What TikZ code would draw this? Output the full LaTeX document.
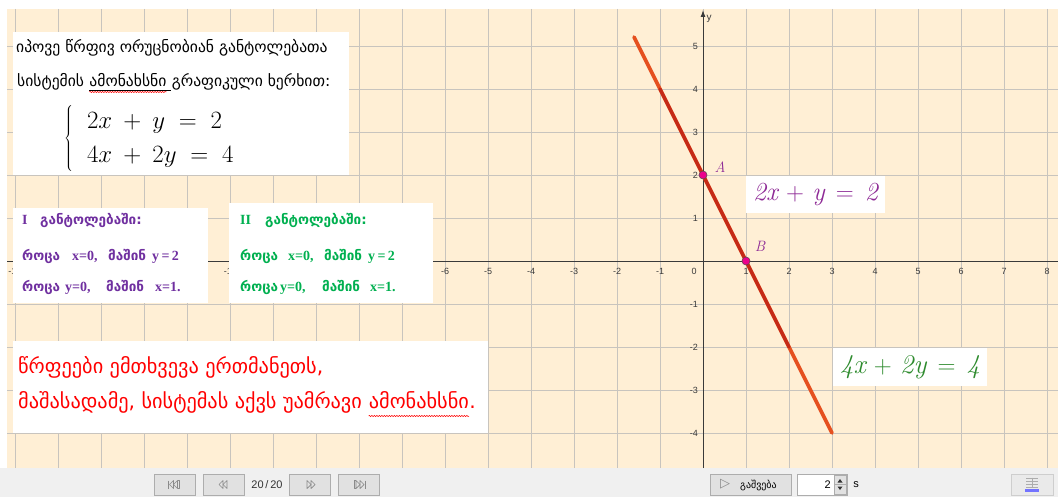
\documentclass[tikz,border=0pt]{standalone}
\usepackage{fontspec}
\usetikzlibrary{decorations.pathmorphing,arrows.meta,calc}
\newfontfamily\geo{DejaVu Sans}
\newfontfamily\lser{Liberation Serif}
\newfontfamily\lsans{Liberation Sans}
\definecolor{cream}{HTML}{FFEFD5}
\definecolor{gridc}{HTML}{C8C4BE}
\definecolor{axisc}{HTML}{3A3A3A}
\definecolor{lineA}{HTML}{E5501F}
\definecolor{lineB}{HTML}{C42A18}
\definecolor{purp}{HTML}{7030A0}
\definecolor{grn}{HTML}{00B050}
\definecolor{gpurp}{HTML}{8E2A96}
\definecolor{ggrn}{HTML}{2E8B2E}
\definecolor{tbar}{HTML}{F0F0F0}
\definecolor{btnf}{HTML}{E1E1E1}
\definecolor{btnd}{HTML}{ADADAD}
\definecolor{icon}{HTML}{8A8A8A}
\newcommand{\wideeq}{\medmuskip=6mu\thickmuskip=8mu}
\newcommand{\widereq}{\medmuskip=8mu\thickmuskip=10mu}
\tikzset{
  gridline/.style={draw=gridc, line width=0.9pt},
  axisline/.style={draw=axisc, line width=0.9pt},
  ticklab/.style={font=\lsans\fontsize{9}{10}\selectfont, text=axisc, inner sep=0pt},
  whitebox/.style={fill=white, draw=none, inner sep=0pt},
  txt/.style={inner sep=0pt, anchor=base west},
  geotxt/.style={txt, font=\geo\fontsize{15.6}{18}\selectfont},
  redtxt/.style={txt, text=red, font=\geo\fontsize{20.3}{23}\selectfont},
  boxtxt/.style={txt, font=\geo\bfseries\fontsize{13.5}{15}\selectfont},
  lattxt/.style={txt, font=\lser\bfseries\fontsize{14}{16}\selectfont},
  thickline/.style={line width=3.6pt, line cap=round},
  pt/.style={circle, fill=magenta, draw=black!70!magenta, line width=0.6pt, inner sep=0pt, minimum size=8pt},
  ptlab/.style={text=gpurp, font=\itshape\fontsize{15}{17}\selectfont, inner sep=0pt},
  spell/.style={draw=red, line width=0.5pt, decorate, decoration={snake, amplitude=0.6pt, segment length=2.5pt}},
  button/.style={draw=btnd, fill=btnf, line width=0.6pt, inner sep=0pt, minimum width=41pt, minimum height=21pt},
  ico/.style={draw=icon, line width=0.7pt, line join=round},
}
\begin{document}
\begin{tikzpicture}[x=1pt,y=-1pt]
\useasboundingbox (0,0) rectangle (1058,497);
\fill[white] (0,0) rectangle (1058,468);
\fill[cream] (7,9) rectangle (1058,468);
\fill[tbar] (0,468) rectangle (1058,497);
% grid
\begin{scope}
\clip (7,9) rectangle (1058,468);
\foreach \i in {-16,...,8} \draw[gridline] ({703+43*\i},9) -- ({703+43*\i},468);
\foreach \j in {-4,...,5} \draw[gridline] (7,{261-43*\j}) -- (1058,{261-43*\j});
\end{scope}
% axes
\coordinate (xl) at (7,261);
\coordinate (xr) at (1058,261);
\coordinate (yb) at (703,468);
\coordinate (yt) at (703,10);
\draw[axisline] (xl) -- (xr);
\draw[axisline,-{Latex[length=7pt,width=5pt]}] (yb) -- (yt);
\node[ticklab,font=\lsans\fontsize{10}{11}\selectfont] (ylab) at (709,19) {y};
\foreach \i in {-16,...,-1} \node[ticklab] (xt\i) at ({703+43*\i},271) {\i};
\foreach \i in {1,...,8} \node[ticklab] (xt\i) at ({703+43*\i},271) {\i};
\node[ticklab] (x0) at (694,271) {0};
\foreach \j in {-4,...,-1} \node[ticklab,anchor=east] (yt\j) at (698,{261-43*\j}) {\j};
\foreach \j in {1,...,5} \node[ticklab,anchor=east] (yt\j) at (698,{261-43*\j}) {\j};
% lines
\coordinate (P1) at (634,37);
\coordinate (P2) at (832,433);
\coordinate (Q1) at (660,89);
\coordinate (Q2) at (789,347);
\draw[thickline, draw=lineA] (P1) -- (P2);
\draw[thickline, draw=lineB, line width=3.2pt] (Q1) -- (Q2);
\node[pt] (A) at (703,175) {};
\node[pt] (B) at (746,261) {};
\node[ptlab] (Al) at (720,167) {A};
\node[ptlab] (Bl) at (760,246) {B};
% equation labels in graph
\node[whitebox, minimum width=139pt, minimum height=37pt] (eq1) at (815.5,194.5)
  {\textcolor{gpurp}{\fontsize{26}{30}\selectfont\wideeq$\mathit{2x+y=2}$}};
\node[whitebox, minimum width=154pt, minimum height=38pt] (eq2) at (910,367)
  {\textcolor{ggrn}{\fontsize{27}{30}\selectfont\wideeq$\mathit{4x+2y=4}$}};
% box 1
\node[whitebox, anchor=north west, minimum width=336pt, minimum height=143pt] (box1) at (13,32) {};
\node[geotxt] (t1) at (16,53) {იპოვე წრფივ ორუცნობიან განტოლებათა};
\node[geotxt] (t2a) at (17,87) {სისტემის};
\node[geotxt, xshift=5pt] (t2b) at (t2a.base east) {ამონახსნი};
\node[geotxt] (t2c) at (t2b.base east) {\ გრაფიკული ხერხით:};
\draw[black, line width=0.5pt] ([yshift=-3pt]t2b.base west) -- ([yshift=-3pt,xshift=4pt]t2b.base east);
\draw[spell] ([yshift=-5pt]t2b.base west) -- ([yshift=-5pt]t2b.base east);
\node[inner sep=0pt, anchor=west] (sys) at (64,139)
  {\fontsize{28}{34}\selectfont\widereq$\left\{\begin{array}{@{\hspace{14pt}}l@{}}2x+y=2\\4x+2y=4\end{array}\right.$};
% box 2 (purple)
\node[whitebox, anchor=north west, minimum width=195pt, minimum height=95pt] (box2) at (13,208) {};
\begin{scope}[every node/.append style={text=purp}]
\node[lattxt] (p1a) at (22,225) {I};
\node[boxtxt] (p1b) at (40,225) {განტოლებაში:};
\node[boxtxt] (p2a) at (22,261) {როცა};
\node[lattxt] (p2b) at (72,261) {x=0,};
\node[boxtxt] (p2c) at (108,261) {მაშინ};
\node[lattxt] (p2d) at (152,261) {y\,=\,2};
\node[boxtxt] (p3a) at (22,291) {როცა};
\node[lattxt] (p3b) at (65,291) {y=0,};
\node[boxtxt] (p3c) at (106,291) {მაშინ};
\node[lattxt] (p3d) at (155,291) {x=1.};
\end{scope}
% box 3 (green)
\node[whitebox, anchor=north west, minimum width=204pt, minimum height=100pt] (box3) at (229,203) {};
\begin{scope}[every node/.append style={text=grn}]
\node[lattxt] (g1a) at (240,225) {II};
\node[boxtxt] (g1b) at (265,225) {განტოლებაში:};
\node[boxtxt] (g2a) at (240,261) {როცა};
\node[lattxt] (g2b) at (288,261) {x=0,};
\node[boxtxt] (g2c) at (324,261) {მაშინ};
\node[lattxt] (g2d) at (368,261) {y\,=\,2};
\node[boxtxt] (g3a) at (240,291) {როცა};
\node[lattxt] (g3b) at (280,291) {y=0,};
\node[boxtxt] (g3c) at (322,291) {მაშინ};
\node[lattxt] (g3d) at (370,291) {x=1.};
\end{scope}
% box 4 (red)
\node[whitebox, anchor=north west, minimum width=475pt, minimum height=92pt] (box4) at (13,341) {};
\node[redtxt] (r1) at (18,373) {წრფეები ემთხვევა ერთმანეთს,};
\node[redtxt] (r2a) at (18,408) {მაშასადამე, სისტემას აქვს უამრავი};
\node[redtxt, xshift=6.5pt] (r2b) at (r2a.base east) {ამონახსნი};
\node[redtxt] (r2c) at (r2b.base east) {.};
\draw[spell] ([yshift=-8pt]r2b.base west) -- ([yshift=-8pt]r2b.base east);
% toolbar
\node[button] (b1) at (174.5,484.5) {};
\node[button] (b2) at (224,484.5) {};
\node[inner sep=0pt, font=\lsans\fontsize{11}{12}\selectfont, text=black!80] (cnt) at (267,485) {20\,/\,20};
\node[button] (b3) at (310,484.5) {};
\node[button] (b4) at (359,484.5) {};
\begin{scope}[shift={(b1.center)}]
  \draw[ico] (-6,-4) -- (-6,4);
  \draw[ico] (-5,0) -- (-1,-4) -- (-1,4) -- cycle;
  \draw[ico] (-1,0) -- (3,-4) -- (3,4) -- cycle;
  \draw[ico] (3,-4) -- (5,-4) -- (5,4) -- (3,4);
\end{scope}
\begin{scope}[shift={(b2.center)}]
  \draw[ico] (-5,0) -- (-1,-4) -- (-1,4) -- cycle;
  \draw[ico] (-1,0) -- (3,-4) -- (3,4) -- cycle;
\end{scope}
\begin{scope}[shift={(b3.center)}]
  \draw[ico] (5,0) -- (1,-4) -- (1,4) -- cycle;
  \draw[ico] (1,0) -- (-3,-4) -- (-3,4) -- cycle;
\end{scope}
\begin{scope}[shift={(b4.center)}]
  \draw[ico] (6,-4) -- (6,4);
  \draw[ico] (5,0) -- (1,-4) -- (1,4) -- cycle;
  \draw[ico] (1,0) -- (-3,-4) -- (-3,4) -- cycle;
  \draw[ico] (-3,-4) -- (-5,-4) -- (-5,4) -- (-3,4);
\end{scope}
\node[button, minimum width=81pt] (play) at (750.5,484.5) {};
\node[inner sep=0pt, anchor=west, text=icon, font=\geo\fontsize{13}{14}\selectfont] (playsym) at (720,484) {▷};
\node[inner sep=0pt, anchor=west, font=\geo\fontsize{10}{12}\selectfont] (playtxt) at (740,485) {გაშვება};
\node[draw=btnd, fill=white, line width=0.6pt, inner sep=0pt, minimum width=50pt, minimum height=21pt] (spin) at (822,484.5) {};
\node[inner sep=0pt, anchor=east, font=\lsans\fontsize{11}{12}\selectfont] (spinval) at (831,485) {2};
\node[draw=btnd, fill=btnf, line width=0.5pt, inner sep=0pt, minimum width=12pt, minimum height=19pt] (spinbtn) at (840,484.5) {};
\fill[black!80] ($(spinbtn.center)+(-2.5,-2)$) -- ++(5,0) -- ++(-2.5,-3.5) -- cycle;
\fill[black!80] ($(spinbtn.center)+(-2.5,2)$) -- ++(5,0) -- ++(-2.5,3.5) -- cycle;
\draw[btnd, line width=0.4pt] (spinbtn.west) -- (spinbtn.east);
\node[inner sep=0pt, font=\lsans\fontsize{11}{12}\selectfont] (sunit) at (856,485) {s};
\node[button, minimum width=42pt, fill=btnf!70!white, draw=btnd!60!white] (tbl) at (1032,484.5) {};
\begin{scope}[shift={(tbl.center)}]
  \draw[icon!70!white, line width=0.5pt] (-6,-6) -- (6,-6) (-6,-3) -- (6,-3) (-6,0) -- (6,0) (-6,3) -- (6,3) (0,-7) -- (0,3);
  \fill[blue!55!white] (-7,4) rectangle (7,7);
\end{scope}
\end{tikzpicture}
\end{document}
